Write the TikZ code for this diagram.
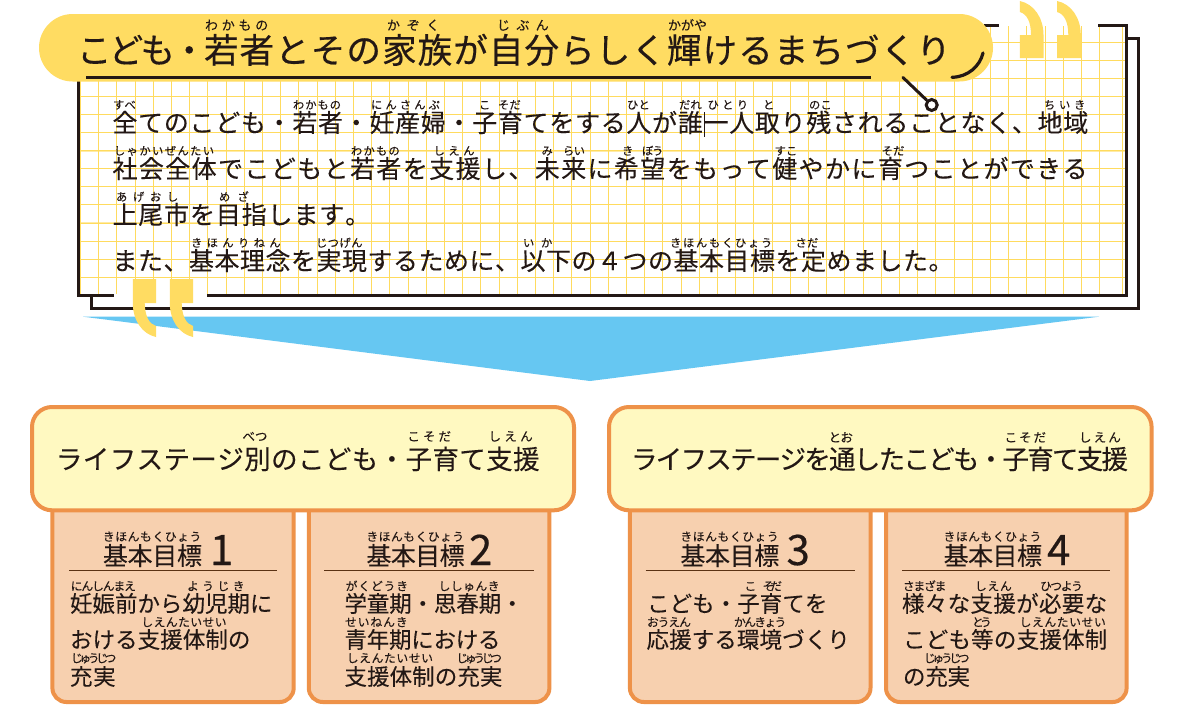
\documentclass[tikz,border=0pt]{standalone}
\usepackage{fontspec}
\setmainfont[FakeBold=0.12]{Noto Sans CJK JP}
\newfontfamily\titlefont[FakeBold=0.45]{Noto Sans CJK JP}
\usetikzlibrary{calc}
\definecolor{ink}{HTML}{231815}
\definecolor{sun}{HTML}{FFDC62}
\definecolor{gridc}{HTML}{FFDB5E}
\definecolor{sky}{HTML}{66C7F2}
\definecolor{orangeline}{HTML}{EE9249}
\definecolor{cream}{HTML}{FFF9C1}
\definecolor{peach}{HTML}{F7D0AF}
\definecolor{rulec}{HTML}{5A3214}
\ExplSyntaxOn
\NewDocumentCommand\spreadchars{m}{
  \bool_set_true:N \l_tmpa_bool
  \tl_map_inline:nn {#1} {
    \bool_if:NTF \l_tmpa_bool {\bool_set_false:N \l_tmpa_bool} {\hskip 0pt plus 1fil minus 1fil\relax}
    ##1
  }
}
\ExplSyntaxOff
\newcount\txtcount
% #1 style, #2 x1, #3 x2, #4 baseline, #5 text
\newcommand\fit[5]{%
  \global\advance\txtcount by 1
  \pgfmathsetlengthmacro{\fitw}{(#3)-(#2)}%
  \node[#1] (t\the\txtcount) at (#2,#4) {\hbox to \fitw{\spreadchars{#5}\hfil}};%
}
\newcommand\goal[4]{% x1 x2 number-x digit
  \fit{gruby}{#1}{#2}{541}{きほんもくひょう}
  \fit{ghead}{#1}{#2}{565}{基本目標}
  \global\advance\txtcount by 1
  \node[gdigit] (t\the\txtcount) at (#3,565) {#4};
}
\tikzset{
  x=1pt,y=-1pt,
  txt/.style={anchor=base west,inner sep=0pt,outer sep=0pt,text=ink},
  ruby/.style={txt,font=\fontsize{11.3}{11.3}\selectfont},
  tuby/.style={txt,font=\fontsize{13}{13}\selectfont},
  main/.style={txt,font=\fontsize{25}{25}\selectfont},
  ttl/.style={txt,font=\titlefont\fontsize{34.5}{34.5}\selectfont},
  hd/.style={txt,font=\fontsize{26.5}{26.5}\selectfont},
  huby/.style={txt,font=\fontsize{12.5}{12.5}\selectfont},
  gruby/.style={txt,font=\fontsize{11.8}{11.8}\selectfont},
  ghead/.style={txt,font=\fontsize{25}{25}\selectfont},
  gdigit/.style={txt,font=\titlefont\fontsize{42}{42}\selectfont},
  body/.style={txt,font=\fontsize{22.5}{22.5}\selectfont},
  gridline/.style={draw=gridc,line width=0.9pt},
  frameline/.style={draw=ink,line width=3pt},
  headbox/.style={draw=orangeline,fill=cream,line width=4pt,rounded corners=20pt},
  goalbox/.style={draw=orangeline,fill=peach,line width=4pt,rounded corners=14pt},
  grule/.style={draw=rulec,line width=0.9pt},
  quote/.style={fill=sun,draw=none},
}
\begin{document}
\begin{tikzpicture}
\useasboundingbox (0,0) rectangle (1186,720);
\fill[white] (0,0) rectangle (1186,720);
% paper, back sheet
\draw[frameline,line join=miter] (1126,38) -- (1138,38) -- (1138,308) -- (91,308) -- (91,295);
% grid
\foreach \i in {0,...,55} { \draw[gridline] ({98.7+18.2*\i},26) -- ({98.7+18.2*\i},294); }
\draw[gridline] (80.5,26) -- (80.5,294);
\draw[gridline] (1122.7,26) -- (1122.7,294);
\foreach \i in {0,...,13} { \draw[gridline] (79,{42+18.1*\i}) -- (1125,{42+18.1*\i}); }
\draw[gridline,line width=1.8pt,opacity=.55] (79,150.6) -- (1125,150.6);
\draw[gridline,line width=1.8pt,opacity=.55] (79,222.9) -- (1125,222.9);
% paper, front sheet
\draw[frameline,line join=miter] (78.5,81) -- (78.5,295) -- (114,295);
\draw[frameline,line join=miter] (207.4,295) -- (1126,295) -- (1126,25.7) -- (1098,25.7);
\draw[frameline] (984,25.7) -- (998.7,25.7);
% arrow
\fill[sky] (83,316.7) -- (1099,316.7) -- (590,381) -- cycle;
% quotes
\foreach \dx in {0,37} {
  \fill[quote] ({132.8+\dx},279) -- ({156+\dx},279) -- ({156+\dx},303) -- ({144.7+\dx},303)
    .. controls ({145+\dx},316) and ({149+\dx},324) .. ({156+\dx},326) -- ({156+\dx},337)
    .. controls ({142+\dx},334) and ({132.8+\dx},320) .. ({132.8+\dx},303) -- cycle;
}
\foreach \dx in {0,37.3} {
  \fill[quote] ({1043.5+\dx},58) -- ({1019.8+\dx},58) -- ({1019.8+\dx},35) -- ({1031+\dx},35)
    .. controls ({1031+\dx},22) and ({1027+\dx},14) .. ({1019.8+\dx},12) -- ({1019.8+\dx},1)
    .. controls ({1034+\dx},4) and ({1043.5+\dx},18) .. ({1043.5+\dx},35) -- cycle;
}
% title pill
\fill[sun,rounded corners=33.7pt] (39,14) rectangle (993,81.5);
\draw[ink,line width=3.4pt] (86,77.7) -- (870.5,77.7);
\coordinate (tailstart) at (903,77.5);
\node[circle,draw=ink,fill=white,line width=3pt,minimum size=11pt,inner sep=0pt] (dot) at (931.7,105) {};
\draw[ink,line width=3pt,line cap=round] (tailstart) -- (dot);
\draw[ink,line width=3.2pt,line cap=round] (952,77.3) .. controls (968,77) and (980,66) .. (983,53);
% title text
\fit{ttl}{77}{175}{63}{こども}
\fit{ttl}{172}{198}{63}{・}
\fit{ttl}{204}{952}{63}{若者とその家族が自分らしく輝けるまちづくり}
\fit{tuby}{205}{272}{30}{わかもの}
\fit{tuby}{387}{446}{30}{かぞく}
\fit{tuby}{497}{555}{30}{じぶん}
\fit{tuby}{668}{707}{30}{かがや}
% main text
\fit{main}{112.5}{1089}{132}{全てのこども・若者・妊産婦・子育てをする人が誰一人取り残されることなく、地域}
\fit{main}{112.5}{1089}{178}{社会全体でこどもと若者を支援し、未来に希望をもって健やかに育つことができる}
\fit{main}{112.5}{371}{224}{上尾市を目指します。}
\fit{main}{112.5}{954}{270}{また、基本理念を実現するために、以下の４つの基本目標を定めました。}
\draw[ink,line width=0.6pt] (704,112) -- (704,137);
% ruby, line 1
\fit{ruby}{113}{136}{109}{すべ}
\fit{ruby}{293}{342}{109}{わかもの}
\fit{ruby}{371}{443}{109}{にんさんぷ}
\fit{ruby}{479}{490}{109}{こ}
\fit{ruby}{498}{521}{109}{そだ}
\fit{ruby}{627}{650}{109}{ひと}
\fit{ruby}{679}{702}{109}{だれ}
\fit{ruby}{707.5}{751.5}{109}{ひとり}
\fit{ruby}{763}{774}{109}{と}
\fit{ruby}{809}{832}{109}{のこ}
\fit{ruby}{1044}{1089}{109}{ちいき}
% ruby, line 2
\fit{ruby}{114}{215.5}{155}{しゃかいぜんたい}
\fit{ruby}{351}{401}{155}{わかもの}
\fit{ruby}{433.6}{478}{155}{しえん}
\fit{ruby}{541.5}{552.5}{155}{み}
\fit{ruby}{563}{585}{155}{らい}
\fit{ruby}{622}{633}{155}{き}
\fit{ruby}{642}{663.5}{155}{ぼう}
\fit{ruby}{774.5}{797.5}{155}{すこ}
\fit{ruby}{881.6}{904.6}{155}{そだ}
% ruby, line 3
\fit{ruby}{116}{184}{201}{あげおし}
\fit{ruby}{219}{256}{201}{めざ}
% ruby, line 4
\fit{ruby}{191}{285}{247}{きほんりねん}
\fit{ruby}{316}{363}{247}{じつげん}
\fit{ruby}{523}{559}{247}{いか}
\fit{ruby}{670}{774}{247}{きほんもくひょう}
\fit{ruby}{795.5}{818.5}{247}{さだ}
% goal boxes
\draw[goalbox] (52.4,480) rectangle (293.7,702);
\draw[goalbox] (308.8,480) rectangle (549.4,702);
\draw[goalbox] (629.9,480) rectangle (870.5,702);
\draw[goalbox] (886,480) rectangle (1126.6,702);
% header boxes
\draw[headbox] (32,407) rectangle (574,510.3);
\draw[headbox] (609,407) rectangle (1151.6,510.3);
\fit{hd}{56}{540}{469}{ライフステージ別のこども・子育て支援}
\fit{huby}{242.5}{267.5}{441}{べつ}
\fit{huby}{407.5}{454}{441}{こそだ}
\fit{huby}{488.6}{536}{441}{しえん}
\fit{hd}{631}{1128}{469}{ライフステージを通したこども・子育て支援}
\fit{huby}{828.6}{852.9}{442}{とお}
\fit{huby}{1004.6}{1048}{442}{こそだ}
\fit{huby}{1079}{1123}{442}{しえん}
% goal 1
\goal{102.9}{202}{210}{1}
\draw[grule] (69,570.7) -- (277,570.7);
\fit{body}{70}{272.5}{612}{妊娠前から幼児期に}
\fit{body}{70}{250.5}{648}{おける支援体制の}
\fit{body}{70}{116.5}{685}{充実}
\fit{gruby}{70.7}{136}{590.5}{にんしんまえ}
\fit{gruby}{187}{248}{590.5}{ようじき}
\fit{gruby}{141.4}{227}{626.5}{しえんたいせい}
\fit{gruby}{71}{116.4}{662.5}{じゅうじつ}
% goal 2
\goal{366.4}{464.6}{469}{2}
\draw[grule] (324.3,570.7) -- (533.6,570.7);
\fit{body}{344.5}{523.5}{612}{学童期・思春期・}
\fit{body}{344.5}{500.5}{648}{青年期における}
\fit{body}{344.5}{502.5}{685}{支援体制の充実}
\fit{gruby}{345.7}{409}{590.5}{がくどうき}
\fit{gruby}{438.6}{500}{590.5}{ししゅんき}
\fit{gruby}{345}{408.6}{626.5}{せいねんき}
\fit{gruby}{346.8}{433.6}{662.5}{しえんたいせい}
\fit{gruby}{456.4}{502}{662.5}{じゅうじつ}
% goal 3
\goal{680.4}{779.3}{786.5}{3}
\draw[grule] (645.7,570.7) -- (855,570.7);
\fit{body}{647}{827.5}{612}{こども・子育てを}
\fit{body}{646.5}{850}{648}{応援する環境づくり}
\fit{gruby}{744.6}{754}{590.5}{こ}
\fit{gruby}{762.5}{782}{590.5}{そだ}
\fit{gruby}{647}{691}{626.5}{おうえん}
\fit{gruby}{734}{786.4}{626.5}{かんきょう}
% goal 4
\goal{943.6}{1042}{1047}{4}
\draw[grule] (902,570.7) -- (1110,570.7);
\fit{body}{902}{1107.5}{612}{様々な支援が必要な}
\fit{body}{903}{1107.5}{648}{こども等の支援体制}
\fit{body}{903}{970}{685}{の充実}
\fit{gruby}{902.9}{946.4}{590.5}{さまざま}
\fit{gruby}{975}{1012.5}{590.5}{しえん}
\fit{gruby}{1040}{1082.9}{590.5}{ひつよう}
\fit{gruby}{972}{991.8}{626.5}{とう}
\fit{gruby}{1019.6}{1106.4}{626.5}{しえんたいせい}
\fit{gruby}{923.9}{969.6}{662.5}{じゅうじつ}
\end{tikzpicture}
\end{document}
